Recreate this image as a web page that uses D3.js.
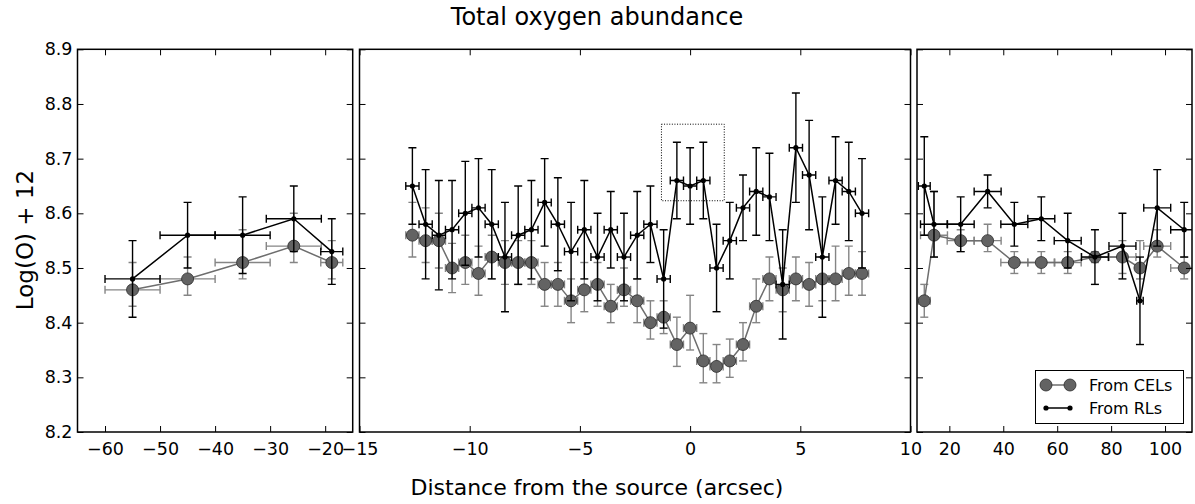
<!DOCTYPE html>
<html><head><meta charset="utf-8">
<script src="https://cdn.jsdelivr.net/npm/d3@7"></script>
<style>body{margin:0;background:#fff} text{font-family:"DejaVu Sans",sans-serif;fill:#000}</style>
</head><body><svg id="c" width="1195" height="504"></svg>
<script>
// ---------- data ----------
const yDomain = [8.2, 8.9];
const yTicks = [8.2, 8.3, 8.4, 8.5, 8.6, 8.7, 8.8, 8.9];

const leftDomain = [-65, -15];
const leftTicks = [-60, -50, -40, -30, -20];
const leftX = [-55, -45, -35, -25.7, -18.8];
const leftXErr = [5, 5, 5, 5, 2];
const leftRL = [8.48, 8.56, 8.56, 8.59, 8.53];
const leftRLErr = [0.07, 0.06, 0.07, 0.06, 0.06];
const leftCEL = [8.46, 8.48, 8.51, 8.54, 8.51];
const leftCELErrUp = [0.05, 0.04, 0.06, 0.06, 0.04];
const leftCELErrDown = [0.03, 0.03, 0.03, 0.03, 0.03];

const midDomain = [-15, 10];
const midTicks = [-15, -10, -5, 0, 5, 10];
const midX = [-12.6,-12.0,-11.4,-10.8,-10.2,-9.6,-9.0,-8.4,-7.8,-7.2,-6.6,-6.0,-5.4,-4.8,-4.2,-3.6,-3.0,-2.4,-1.8,-1.2,-0.6,0.0,0.6,1.2,1.8,2.4,3.0,3.6,4.2,4.8,5.4,6.0,6.6,7.2,7.8];
const midXErr = [0.3,0.3,0.3,0.3,0.3,0.3,0.3,0.3,0.3,0.3,0.3,0.3,0.3,0.3,0.3,0.3,0.3,0.3,0.3,0.3,0.3,0.3,0.3,0.3,0.3,0.3,0.3,0.3,0.3,0.3,0.3,0.3,0.3,0.3,0.3];
const midRL = [8.65,8.58,8.56,8.57,8.60,8.61,8.58,8.52,8.56,8.57,8.62,8.58,8.53,8.57,8.52,8.57,8.52,8.56,8.58,8.48,8.66,8.65,8.66,8.50,8.55,8.61,8.64,8.63,8.47,8.72,8.67,8.52,8.66,8.64,8.60];
const midRLErr = [0.07,0.10,0.10,0.09,0.095,0.09,0.10,0.10,0.09,0.09,0.08,0.085,0.09,0.09,0.08,0.07,0.08,0.08,0.07,0.09,0.07,0.07,0.07,0.08,0.07,0.06,0.08,0.08,0.10,0.10,0.10,0.11,0.08,0.09,0.10];
const midCEL = [8.56,8.55,8.55,8.50,8.51,8.49,8.52,8.51,8.51,8.51,8.47,8.47,8.44,8.46,8.47,8.43,8.46,8.44,8.40,8.41,8.36,8.39,8.33,8.32,8.33,8.36,8.43,8.48,8.46,8.48,8.47,8.48,8.48,8.49,8.49];
const midCELErrUp = [0.06,0.06,0.05,0.045,0.05,0.05,0.04,0.04,0.04,0.04,0.04,0.04,0.04,0.05,0.04,0.04,0.04,0.04,0.04,0.03,0.05,0.06,0.05,0.04,0.04,0.04,0.05,0.04,0.04,0.04,0.04,0.04,0.06,0.05,0.04];
const midCELErrDown = [0.04,0.04,0.05,0.045,0.04,0.04,0.04,0.04,0.04,0.04,0.04,0.04,0.04,0.04,0.04,0.03,0.03,0.04,0.03,0.03,0.04,0.04,0.04,0.03,0.03,0.03,0.03,0.04,0.04,0.04,0.04,0.04,0.04,0.04,0.04];
const highlightBox = {x0: -1.3, x1: 1.55, y0: 8.623, y1: 8.763};

const rightDomain = [8, 110];
const rightTicks = [20, 40, 60, 80, 100];
const rightX = [10.7, 14.3, 24.2, 34.2, 44.1, 54.1, 63.9, 74.0, 84.2, 90.7, 97.1, 107.1];
const rightXErr = [2.2, 5, 5, 5, 5, 5, 5, 5, 5, 1.2, 5, 5];
const rightRL = [8.65, 8.58, 8.58, 8.64, 8.58, 8.59, 8.55, 8.52, 8.54, 8.44, 8.61, 8.57];
const rightRLErr = [0.09, 0.06, 0.05, 0.03, 0.04, 0.04, 0.05, 0.05, 0.06, 0.08, 0.07, 0.05];
const rightCEL = [8.44, 8.56, 8.55, 8.55, 8.51, 8.51, 8.51, 8.52, 8.52, 8.50, 8.54, 8.50];
const rightCELErrUp = [0.03, 0.08, 0.02, 0.03, 0.02, 0.02, 0.02, 0.01, 0.03, 0.05, 0.03, 0.02];
const rightCELErrDown = [0.03, 0.04, 0.02, 0.02, 0.02, 0.02, 0.02, 0.01, 0.03, 0.02, 0.02, 0.02];

const titleText = "Total oxygen abundance";
const xLabelText = "Distance from the source (arcsec)";
const yLabelText = "Log(O) + 12";
const legendLabels = ["From CELs", "From RLs"];

// ---------- layout / style ----------
const plotTop = 49.3, plotBottom = 432;
const CEL_LINE = "#6e6e6e", CEL_ERR = "#858585", CEL_FILL = "#636363";
const TICK_FS = 17.5;

const svg = d3.select("#c");
const y = d3.scaleLinear().domain(yDomain).range([plotBottom, plotTop]);

const panels = [
  {range: [77.5, 352.7], domain: leftDomain, ticks: leftTicks, xs: leftX, xerr: leftXErr,
   rl: leftRL, rlErr: leftRLErr, cel: leftCEL, celUp: leftCELErrUp, celDown: leftCELErrDown, yLabels: true},
  {range: [359.5, 910.5], domain: midDomain, ticks: midTicks, xs: midX, xerr: midXErr,
   rl: midRL, rlErr: midRLErr, cel: midCEL, celUp: midCELErrUp, celDown: midCELErrDown, box: highlightBox},
  {range: [917, 1192], domain: rightDomain, ticks: rightTicks, xs: rightX, xerr: rightXErr,
   rl: rightRL, rlErr: rightRLErr, cel: rightCEL, celUp: rightCELErrUp, celDown: rightCELErrDown}
];

const fmt = d => (d < 0 ? "\u2212" : "") + Math.abs(d);
const CAP = 4;

function errorBars(g, x, xs, vals, up, down, xerr, color) {
  const eg = g.append("g").attr("stroke", color).attr("stroke-width", 1.4).attr("fill", "none");
  xs.forEach((xv, i) => {
    const px = x(xv), py = y(vals[i]);
    const yt = y(vals[i] + up[i]), yb = y(vals[i] - down[i]);
    const xl = x(xv - xerr[i]), xr = x(xv + xerr[i]);
    eg.append("line").attr("x1", px).attr("x2", px).attr("y1", yt).attr("y2", yb);
    eg.append("line").attr("x1", px - CAP).attr("x2", px + CAP).attr("y1", yt).attr("y2", yt);
    eg.append("line").attr("x1", px - CAP).attr("x2", px + CAP).attr("y1", yb).attr("y2", yb);
    eg.append("line").attr("x1", xl).attr("x2", xr).attr("y1", py).attr("y2", py);
    eg.append("line").attr("x1", xl).attr("x2", xl).attr("y1", py - CAP).attr("y2", py + CAP);
    eg.append("line").attr("x1", xr).attr("x2", xr).attr("y1", py - CAP).attr("y2", py + CAP);
  });
}

panels.forEach((p, k) => {
  const x = d3.scaleLinear().domain(p.domain).range(p.range);
  const clipId = "clip" + k;
  svg.append("clipPath").attr("id", clipId).append("rect")
    .attr("x", p.range[0]).attr("y", plotTop).attr("width", p.range[1] - p.range[0]).attr("height", plotBottom - plotTop);
  const g = svg.append("g").attr("clip-path", `url(#${clipId})`);

  // CEL series
  errorBars(g, x, p.xs, p.cel, p.celUp, p.celDown, p.xerr, CEL_ERR);
  const line = d3.line().x((d, i) => x(p.xs[i])).y(d => y(d));
  g.append("path").datum(p.cel).attr("d", line).attr("fill", "none").attr("stroke", CEL_LINE).attr("stroke-width", 1.5);
  g.selectAll(null).data(p.cel).join("circle")
    .attr("cx", (d, i) => x(p.xs[i])).attr("cy", d => y(d)).attr("r", 6)
    .attr("fill", CEL_FILL).attr("stroke", "#2a2a2a").attr("stroke-width", 0.8);

  // RL series
  const rlErr = p.rlErr;
  errorBars(g, x, p.xs, p.rl, rlErr, rlErr, p.xerr, "#000");
  g.append("path").datum(p.rl).attr("d", line).attr("fill", "none").attr("stroke", "#000").attr("stroke-width", 1.5);
  g.selectAll(null).data(p.rl).join("circle")
    .attr("cx", (d, i) => x(p.xs[i])).attr("cy", d => y(d)).attr("r", 2.6).attr("fill", "#000");

  if (p.box) {
    g.append("rect").attr("x", x(p.box.x0)).attr("y", y(p.box.y1))
      .attr("width", x(p.box.x1) - x(p.box.x0)).attr("height", y(p.box.y0) - y(p.box.y1))
      .attr("fill", "none").attr("stroke", "#000").attr("stroke-width", 1).attr("stroke-dasharray", "1,1.6");
  }

  // axes (ticks inward)
  const axB = svg.append("g").attr("transform", `translate(0,${plotBottom})`)
    .call(d3.axisBottom(x).tickValues(p.ticks).tickSize(-6).tickFormat(fmt));
  axB.selectAll("text").attr("y", 23).attr("dy", 0).attr("font-size", TICK_FS).attr("font-family", "DejaVu Sans");
  const axT = svg.append("g").attr("transform", `translate(0,${plotTop})`)
    .call(d3.axisTop(x).tickValues(p.ticks).tickSize(-6).tickFormat(""));
  const axL = svg.append("g").attr("transform", `translate(${p.range[0]},0)`)
    .call(d3.axisLeft(y).tickValues(yTicks).tickSize(-6).tickFormat(p.yLabels ? d3.format(".1f") : ""));
  axL.selectAll("text").attr("x", -5).attr("font-size", TICK_FS).attr("font-family", "DejaVu Sans");
  const axR = svg.append("g").attr("transform", `translate(${p.range[1]},0)`)
    .call(d3.axisRight(y).tickValues(yTicks).tickSize(-6).tickFormat(""));
  [axB, axT, axL, axR].forEach(a => {
    a.select(".domain").remove();
    a.selectAll("line").attr("stroke", "#000").attr("stroke-width", 1);
  });

  svg.append("rect").attr("x", p.range[0]).attr("y", plotTop)
    .attr("width", p.range[1] - p.range[0]).attr("height", plotBottom - plotTop)
    .attr("fill", "none").attr("stroke", "#000").attr("stroke-width", 1.5);
});

// titles
svg.append("text").attr("x", 597).attr("y", 25).attr("text-anchor", "middle").attr("font-size", 24).text(titleText);
svg.append("text").attr("x", 597).attr("y", 495).attr("text-anchor", "middle").attr("font-size", 22).text(xLabelText);
svg.append("text").attr("transform", "translate(33,240) rotate(-90)").attr("text-anchor", "middle").attr("font-size", 23).text(yLabelText);

// legend
const lg = svg.append("g");
lg.append("rect").attr("x", 1035.5).attr("y", 370.5).attr("width", 148).attr("height", 53)
  .attr("fill", "#fff").attr("stroke", "#000").attr("stroke-width", 1);
const ly = [385, 408];
lg.append("line").attr("x1", 1046).attr("x2", 1070).attr("y1", ly[0]).attr("y2", ly[0]).attr("stroke", CEL_LINE).attr("stroke-width", 1.5);
[1046, 1070].forEach(cx => lg.append("circle").attr("cx", cx).attr("cy", ly[0]).attr("r", 6)
  .attr("fill", CEL_FILL).attr("stroke", "#2a2a2a").attr("stroke-width", 0.8));
lg.append("line").attr("x1", 1046).attr("x2", 1070).attr("y1", ly[1]).attr("y2", ly[1]).attr("stroke", "#000").attr("stroke-width", 1.5);
[1046, 1070].forEach(cx => lg.append("circle").attr("cx", cx).attr("cy", ly[1]).attr("r", 2.6).attr("fill", "#000"));
legendLabels.forEach((t, i) => lg.append("text").attr("x", 1089).attr("y", ly[i] + 6).attr("font-size", 16).text(t));
</script></body></html>
